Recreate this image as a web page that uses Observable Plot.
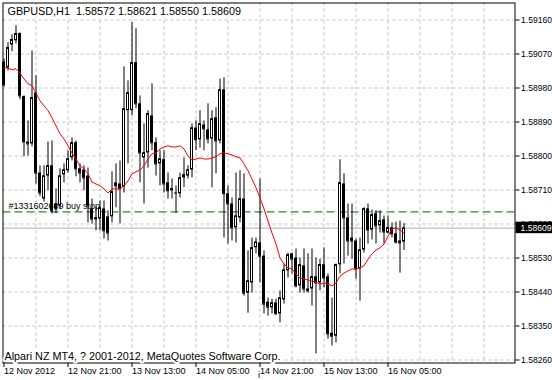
<!DOCTYPE html>
<html><head><meta charset="utf-8">
<script src="https://cdn.jsdelivr.net/npm/d3@7"></script>
<script src="https://cdn.jsdelivr.net/npm/@observablehq/plot@0.6"></script>
<style>
html,body{margin:0;padding:0;background:#fff;}
svg text{white-space:pre;}
</style></head><body><div id="chart"></div>
<script>
const symbolTitle = "GBPUSD,H1";
const opens = [1.59049,1.59033,1.59094,1.59105,1.59124,1.58957,1.58837,1.58832,1.58967,1.58755,
1.58686,1.58747,1.58774,1.58673,1.58668,1.58750,1.58761,1.58795,1.58835,1.58766,
1.58763,1.58747,1.58660,1.58631,1.58633,1.58660,1.58639,1.58639,1.58729,1.58726,
1.58718,1.58920,1.58920,1.59047,1.58938,1.58795,1.58808,1.58906,1.58835,1.58779,
1.58790,1.58729,1.58708,1.58700,1.58700,1.58742,1.58747,1.58763,1.58874,1.58843,
1.58882,1.58869,1.58845,1.58901,1.58840,1.58975,1.58700,1.58673,1.58610,1.58636,
1.58686,1.58437,1.58464,1.58557,1.58570,1.58535,1.58413,1.58398,1.58411,1.58382,
1.58419,1.58496,1.58541,1.58530,1.58456,1.58509,1.58448,1.58448,1.58480,1.58464,
1.58512,1.58480,1.58331,1.58323,1.58512,1.58726,1.58636,1.58583,1.58575,1.58501,
1.58551,1.58660,1.58604,1.58647,1.58615,1.58631,1.58596,1.58610,1.58594,1.58575,
1.58572];
const highs = [1.59057,1.59100,1.59121,1.59145,1.59126,1.58959,1.58893,1.59078,1.59012,1.58774,
1.58774,1.58837,1.58840,1.58713,1.58766,1.58779,1.58814,1.58848,1.58840,1.58779,
1.58774,1.58768,1.58686,1.58665,1.58681,1.58681,1.58655,1.58758,1.58779,1.58787,
1.59036,1.58999,1.59153,1.59137,1.58959,1.58885,1.58920,1.58991,1.58848,1.58814,
1.58814,1.58755,1.58739,1.58721,1.58755,1.58795,1.58774,1.58885,1.58893,1.58920,
1.58893,1.58938,1.58920,1.58928,1.59004,1.59007,1.58721,1.58689,1.58755,1.58761,
1.58753,1.58549,1.58583,1.58583,1.58739,1.58549,1.58424,1.58421,1.58421,1.58443,
1.58514,1.58543,1.58543,1.58554,1.58530,1.58554,1.58541,1.58554,1.58530,1.58527,
1.58557,1.58488,1.58424,1.58514,1.58790,1.58753,1.58673,1.58673,1.58580,1.58583,
1.58663,1.58673,1.58657,1.58655,1.58655,1.58641,1.58641,1.58623,1.58625,1.58628,
1.58621];
const lows = [1.58983,1.59025,1.59076,1.59097,1.58949,1.58798,1.58800,1.58824,1.58726,1.58692,
1.58678,1.58708,1.58647,1.58647,1.58660,1.58729,1.58755,1.58787,1.58745,1.58729,
1.58708,1.58623,1.58620,1.58602,1.58602,1.58580,1.58575,1.58623,1.58663,1.58620,
1.58702,1.58779,1.58906,1.58925,1.58729,1.58673,1.58768,1.58814,1.58747,1.58721,
1.58702,1.58686,1.58686,1.58649,1.58689,1.58716,1.58739,1.58742,1.58814,1.58821,
1.58814,1.58832,1.58716,1.58753,1.58832,1.58583,1.58567,1.58575,1.58570,1.58623,
1.58429,1.58384,1.58437,1.58541,1.58464,1.58382,1.58376,1.58382,1.58379,1.58358,
1.58408,1.58477,1.58488,1.58451,1.58437,1.58437,1.58437,1.58403,1.58276,1.58443,
1.58451,1.58315,1.58297,1.58305,1.58488,1.58514,1.58535,1.58527,1.58474,1.58416,
1.58543,1.58567,1.58578,1.58567,1.58596,1.58567,1.58594,1.58583,1.58567,1.58490,
1.58550];
const closes = [1.58988,1.59087,1.59108,1.59124,1.58959,1.58837,1.58832,1.58954,1.58755,1.58702,
1.58747,1.58774,1.58655,1.58660,1.58747,1.58763,1.58792,1.58835,1.58766,1.58755,
1.58742,1.58668,1.58633,1.58636,1.58663,1.58602,1.58596,1.58705,1.58721,1.58713,
1.58925,1.58967,1.59047,1.58938,1.58808,1.58808,1.58912,1.58835,1.58779,1.58792,
1.58726,1.58708,1.58713,1.58702,1.58742,1.58750,1.58763,1.58874,1.58843,1.58885,
1.58872,1.58845,1.58898,1.58840,1.58975,1.58700,1.58673,1.58610,1.58641,1.58686,
1.58437,1.58469,1.58557,1.58572,1.58535,1.58408,1.58400,1.58411,1.58382,1.58424,
1.58498,1.58538,1.58527,1.58456,1.58512,1.58448,1.58443,1.58480,1.58464,1.58512,
1.58477,1.58329,1.58323,1.58512,1.58729,1.58636,1.58575,1.58575,1.58501,1.58551,
1.58660,1.58604,1.58644,1.58615,1.58628,1.58599,1.58610,1.58594,1.58572,1.58570,
1.58609];
const movingAvg = [1.59033,1.59033,1.59028,1.59031,1.59020,1.59004,1.58991,1.58986,1.58967,1.58946,
1.58933,1.58920,1.58901,1.58880,1.58859,1.58845,1.58827,1.58808,1.58792,1.58774,
1.58766,1.58753,1.58731,1.58726,1.58721,1.58713,1.58702,1.58713,1.58713,1.58713,
1.58721,1.58734,1.58753,1.58758,1.58763,1.58774,1.58792,1.58806,1.58808,1.58819,
1.58824,1.58827,1.58824,1.58824,1.58827,1.58819,1.58800,1.58790,1.58792,1.58795,
1.58792,1.58792,1.58795,1.58798,1.58806,1.58808,1.58806,1.58803,1.58798,1.58795,
1.58779,1.58761,1.58739,1.58716,1.58689,1.58660,1.58628,1.58596,1.58567,1.58530,
1.58514,1.58504,1.58501,1.58488,1.58477,1.58474,1.58472,1.58469,1.58466,1.58461,
1.58464,1.58461,1.58456,1.58464,1.58482,1.58490,1.58496,1.58501,1.58501,1.58504,
1.58509,1.58527,1.58541,1.58551,1.58557,1.58567,1.58588,1.58607,1.58610,1.58604,
1.58596];
const xTickBars = [0,16,32,48,64,80,96];
const xTickLabels = ["12 Nov 2012","12 Nov 21:00","13 Nov 13:00","14 Nov 05:00","14 Nov 21:00","15 Nov 13:00","16 Nov 05:00"];
const yTicks = [1.58260,1.58350,1.58440,1.58530,1.58620,1.58710,1.58800,1.58890,1.58980,1.59070,1.59160];
const orderPrice = 1.58652;
const orderLabel = "#1331602609 buy stop";
const footer = "Alpari NZ MT4, ? 2001-2012, MetaQuotes Software Corp.";
const visibleSlots = 128;

const bars = opens.map((o, i) => ({i, open: o, high: highs[i], low: lows[i], close: closes[i], ma: movingAvg[i]}));
const last = bars[bars.length - 1];
const fmt = d3.format(".5f");
const header = `${symbolTitle}  ${fmt(last.open)} ${fmt(last.high)} ${fmt(last.low)} ${fmt(last.close)}`;
const labelMap = new Map(xTickBars.map((b, k) => [b, xTickLabels[k]]));
const gridColor = "#c0c0c0";
const fontStack = "'Liberation Sans', Arial, sans-serif";
const bulls = bars.filter(d => d.close >= d.open);
const bears = bars.filter(d => d.close < d.open);

const chart = Plot.plot({
  width: 552, height: 380,
  marginTop: 2.5, marginLeft: 2.5, marginRight: 37.5, marginBottom: 17.5,
  style: {fontFamily: fontStack, fontSize: "9px", color: "black", background: "white", overflow: "visible"},
  x: {type: "band", domain: d3.range(visibleSlots), range: [1.5, 513.5], paddingInner: 0.25, paddingOuter: 0.125},
  y: {domain: [1.582521, 1.59205]},
  marks: [
    Plot.ruleY(yTicks, {y: d => d, stroke: gridColor, strokeDasharray: "3,3"}),
    Plot.ruleX(d3.range(8, visibleSlots, 8), {x: d => d, stroke: gridColor, strokeDasharray: "3,3"}),
    Plot.ruleY([last.close], {y: d => d, stroke: "#b0b0b0"}),
    Plot.ruleY([orderPrice], {y: d => d, stroke: "#006400", strokeDasharray: "8,4"}),
    Plot.text([orderLabel], {y: () => orderPrice, frameAnchor: "left", textAnchor: "start", lineAnchor: "middle", dx: 5.5, dy: -5.6, text: d => d, fill: "black"}),
    Plot.ruleX(bars, {x: "i", y1: "low", y2: "high", stroke: "black"}),
    Plot.barY(bulls, {x: "i", y1: "open", y2: "close", fill: "white", stroke: "black", inset: 0.5}),
    Plot.barY(bears, {x: "i", y1: "open", y2: "close", fill: "black", stroke: "black", inset: 0.5}),
    Plot.tickY(bars, {x: "i", y: "close", stroke: "black"}),
    Plot.line(bars, {x: "i", y: "ma", stroke: "red", strokeWidth: 1}),
    Plot.axisY(yTicks, {anchor: "right", tickSize: 4, tickPadding: 2, tickFormat: fmt, fontSize: 8.6}),
    Plot.axisX(xTickBars, {anchor: "bottom", tickSize: 4.5, tickPadding: 0, tickFormat: d => labelMap.get(d), textAnchor: "start"}),
    Plot.frame({stroke: "black"}),
    Plot.text([header], {frameAnchor: "top-left", textAnchor: "start", lineAnchor: "middle", dx: 4.5, dy: 9, fontSize: 10.8, text: d => d, fill: "black", stroke: "white", strokeWidth: 4}),
    Plot.text([footer], {frameAnchor: "bottom-left", textAnchor: "start", lineAnchor: "middle", dx: 1.5, dy: -6.7, fontSize: 10.8, text: d => d, fill: "black", stroke: "white", strokeWidth: 4})
  ]
});

document.getElementById("chart").appendChild(chart);

// current bid price box on the right price scale
const svg = d3.select(chart.tagName.toLowerCase() === "svg" ? chart : chart.querySelector("svg"));
const yScale = chart.scale("y");
const yy = yScale.apply(last.close);
const g = svg.append("g").attr("text-anchor", "start");
g.append("rect").attr("x", 515.5).attr("y", yy - 6).attr("width", 36.5).attr("height", 11.5).attr("fill", "black");
g.append("text").attr("x", 520.5).attr("y", yy + 3.2).attr("fill", "white").attr("text-anchor", "start")
  .attr("font-family", fontStack).attr("font-size", "8.6px")
  .text(fmt(last.close));
</script>
</body></html>
